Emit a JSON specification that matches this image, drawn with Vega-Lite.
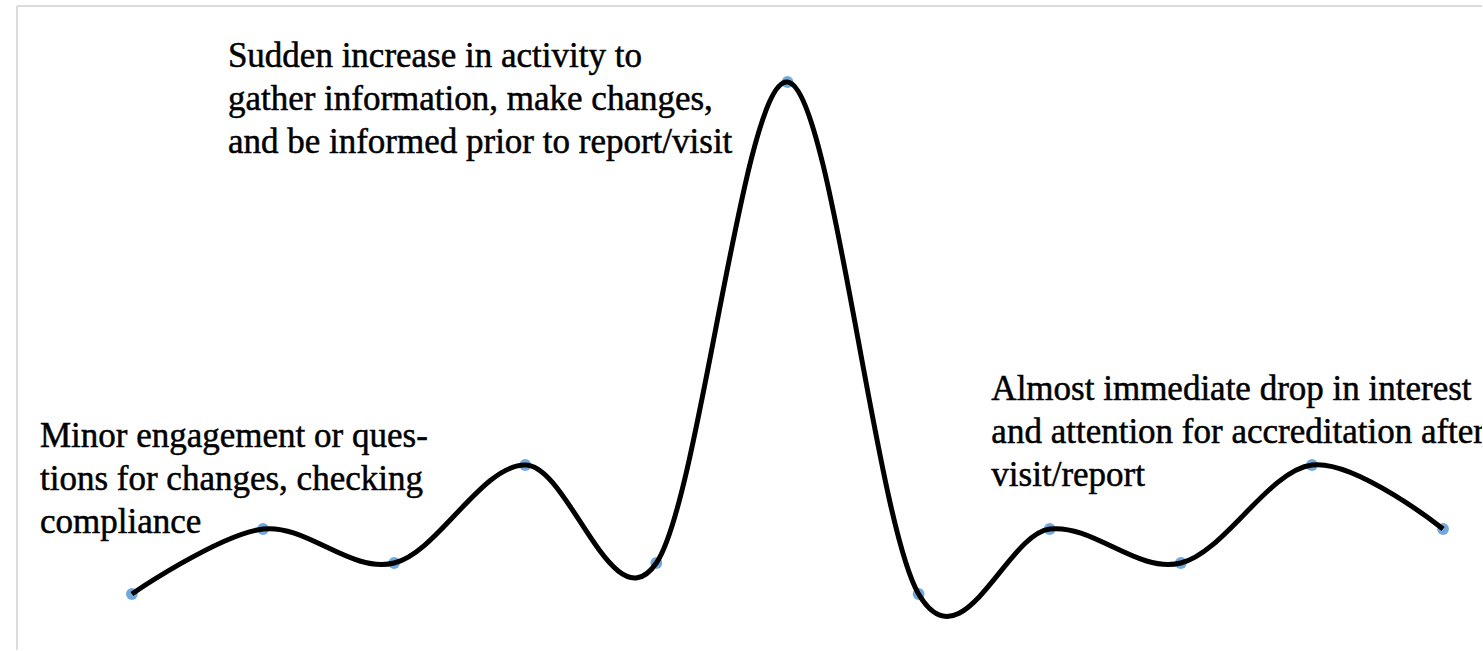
{
  "$schema": "https://vega.github.io/schema/vega-lite/v6.json",
  "autosize": {"type": "fit", "contains": "padding"},
  "width": 1483,
  "height": 651,
  "padding": 0,
  "background": "white",
  "config": {"view": {"stroke": null}},
  "datasets": {
    "curve": [
      {"step": 0, "activity": 57},
      {"step": 1, "activity": 122},
      {"step": 2, "activity": 88},
      {"step": 3, "activity": 186},
      {"step": 4, "activity": 88},
      {"step": 5, "activity": 569},
      {"step": 6, "activity": 57},
      {"step": 7, "activity": 122},
      {"step": 8, "activity": 88},
      {"step": 9, "activity": 186},
      {"step": 10, "activity": 122}
    ],
    "notes": [
      {"step": 0.732, "activity": 584, "label": ["Sudden increase in activity to", "gather information, make changes,", "and be informed prior to report/visit"]},
      {"step": -0.701, "activity": 204, "label": ["Minor engagement or ques-", "tions for changes, checking", "compliance"]},
      {"step": 6.555, "activity": 251, "label": ["Almost immediate drop in interest", "and attention for accreditation after", "visit/report"]}
    ],
    "frame": [
      {"x0": -0.8765, "x1": 10.297, "y0": 645, "y1": 645},
      {"x0": -0.8765, "x1": -0.8765, "y0": 1, "y1": 645}
    ]
  },
  "layer": [
    {
      "data": {"name": "frame"},
      "mark": {"type": "rule", "stroke": "#dcdcdc", "strokeWidth": 2},
      "encoding": {
        "x": {"field": "x0", "type": "quantitative", "scale": {"domain": [-1.006, 10.297], "nice": false, "zero": false}, "axis": null},
        "x2": {"field": "x1"},
        "y": {"field": "y0", "type": "quantitative", "scale": {"domain": [0, 651], "nice": false, "zero": false}, "axis": null},
        "y2": {"field": "y1"}
      }
    },
    {
      "data": {"name": "curve"},
      "mark": {"type": "point", "filled": true, "color": "#5b9bd5", "size": 140, "opacity": 0.85},
      "encoding": {
        "x": {"field": "step", "type": "quantitative", "scale": {"domain": [-1.006, 10.297], "nice": false, "zero": false}, "axis": null},
        "y": {"field": "activity", "type": "quantitative", "scale": {"domain": [0, 651], "nice": false, "zero": false}, "axis": null}
      }
    },
    {
      "data": {"name": "curve"},
      "mark": {"type": "line", "interpolate": "cardinal", "tension": 0, "color": "black", "strokeWidth": 5},
      "encoding": {
        "x": {"field": "step", "type": "quantitative"},
        "y": {"field": "activity", "type": "quantitative"}
      }
    },
    {
      "data": {"name": "notes"},
      "mark": {"type": "text", "clip": true, "align": "left", "baseline": "alphabetic", "font": "Liberation Serif", "fontSize": 35, "lineHeight": 43, "color": "black", "stroke": "black", "strokeWidth": 0.5},
      "encoding": {
        "x": {"field": "step", "type": "quantitative"},
        "y": {"field": "activity", "type": "quantitative"},
        "text": {"field": "label"}
      }
    }
  ]
}
